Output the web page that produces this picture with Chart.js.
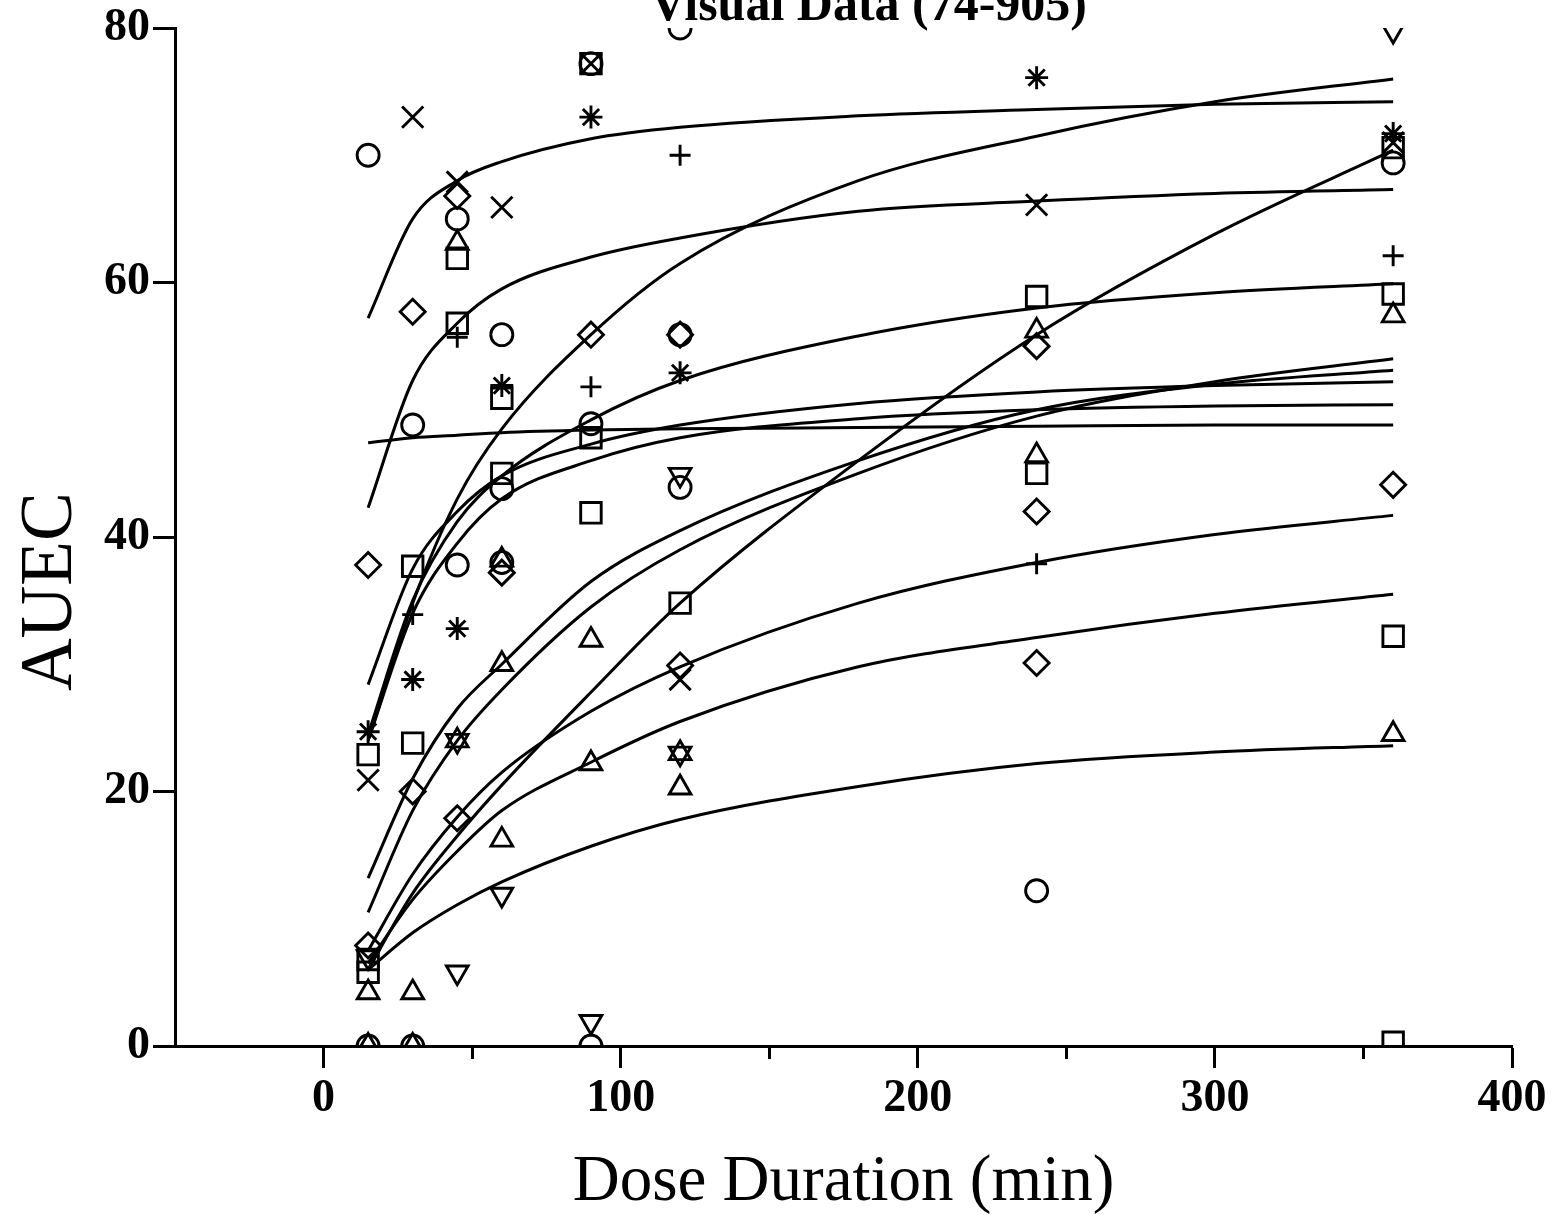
<!DOCTYPE html>
<html>
<head>
<meta charset="utf-8">
<script src="https://cdn.jsdelivr.net/npm/chart.js@4.4.1/dist/chart.umd.min.js"></script>
<style>
  html, body { margin: 0; padding: 0; background: #fff; overflow: hidden; }
  #wrap { position: absolute; left: 0; top: -26px; width: 1552px; height: 1241px; }
</style>
</head>
<body>
<div id="wrap"><canvas id="auecChart" width="1552" height="1241"></canvas></div>
<script>
// fitted curves at these durations
var curveX = [15, 30, 45, 60, 90, 120, 180, 240, 300, 360];
var curveA = [57.2, 65.0, 68.0, 69.5, 71.3, 72.2, 73.1, 73.6, 74.0, 74.2];
var curveB = [42.3, 52.3, 56.8, 59.5, 62.0, 63.5, 65.6, 66.4, 67.0, 67.3];
var curveC = [24.0, 34.8, 43.0, 48.5, 55.9, 61.5, 68.0, 71.5, 74.2, 76.0];
var curveD = [6.0, 12.0, 16.5, 20.5, 27.8, 34.8, 46.0, 55.9, 63.8, 70.4];
var curveE = [24.5, 35.0, 41.2, 44.8, 49.2, 52.3, 55.8, 58.0, 59.2, 59.9];
var curveF = [13.2, 21.0, 26.5, 30.0, 36.5, 40.5, 46.0, 50.0, 52.0, 53.1];
var curveG = [10.5, 18.5, 24.0, 28.0, 34.5, 39.0, 45.0, 49.5, 52.2, 54.0];
var curveH = [28.4, 37.5, 42.0, 44.8, 47.3, 48.8, 50.5, 51.4, 51.9, 52.2];
var curveI = [24.0, 34.0, 39.5, 43.0, 46.0, 47.8, 49.3, 50.0, 50.3, 50.4];
var curveJ = [47.4, 47.8, 48.0, 48.2, 48.4, 48.5, 48.6, 48.7, 48.8, 48.8];
var curveK = [7.5, 13.5, 18.0, 21.5, 26.3, 29.8, 34.8, 38.0, 40.2, 41.7];
var curveL = [6.5, 11.5, 15.3, 18.5, 22.3, 25.5, 29.8, 32.1, 34.0, 35.5];
var curveM = [6.0, 8.9, 11.1, 12.9, 15.7, 17.8, 20.4, 22.2, 23.1, 23.6];

// observed points, one pair of arrays per symbol
var circleX = [15, 15, 30, 30, 45, 45, 60, 60, 60, 90, 90, 90, 120, 120, 120, 240, 360];
var circleY = [70.0, 0, 48.8, 0, 65.0, 37.8, 55.9, 43.8, 38.0, 77.2, 48.9, 0, 80.0, 55.9, 43.9, 12.2, 69.4];
var squareX = [15, 15, 15, 30, 30, 45, 45, 60, 60, 90, 90, 90, 120, 240, 240, 360, 360, 360, 360];
var squareY = [22.9, 6.8, 5.8, 37.7, 23.8, 61.9, 56.8, 50.9, 45.0, 77.2, 47.8, 41.9, 34.8, 58.9, 45.0, 70.6, 59.1, 32.2, 0.3];
var diamondX = [15, 15, 30, 30, 45, 45, 60, 90, 120, 120, 240, 240, 240, 360];
var diamondY = [37.8, 7.9, 57.7, 20.0, 66.8, 17.9, 37.2, 55.9, 55.9, 29.9, 55.0, 42.0, 30.1, 44.1];
var triUpX = [15, 15, 30, 30, 45, 45, 60, 60, 60, 90, 90, 120, 120, 240, 240, 360, 360];
var triUpY = [4.2, 0, 4.2, 0, 63.1, 24.0, 38.2, 30.0, 16.2, 31.9, 22.2, 23.0, 20.3, 56.2, 46.4, 57.4, 24.5];
var triDownX = [15, 45, 45, 60, 90, 120, 120, 360];
var triDownY = [7.0, 24.0, 5.8, 11.9, 1.9, 44.9, 23.0, 79.8];
var crossX = [15, 30, 45, 60, 90, 120, 240, 360];
var crossY = [20.9, 73.0, 67.9, 65.9, 77.2, 28.8, 66.1, 71.0];
var plusX = [30, 45, 90, 120, 240, 360];
var plusY = [33.9, 55.7, 51.8, 70.0, 37.9, 62.1];
var starX = [15, 30, 45, 60, 90, 120, 240, 360];
var starY = [24.7, 28.8, 32.8, 51.9, 73.0, 52.9, 76.1, 71.7];

var xTicks = [0, 100, 200, 300, 400];
var xMinorTicks = [50, 150, 250, 350];
var yTicks = [0, 20, 40, 60, 80];

function pts(xs, ys) {
  var out = [];
  for (var i = 0; i < xs.length; i++) out.push({ x: xs[i], y: ys[i] });
  return out;
}

function fixedTicks(list) {
  return function (s) {
    s.ticks = list.map(function (v) { return { value: v }; });
  };
}

Chart.defaults.font.family = "'Liberation Serif', 'Times New Roman', serif";
Chart.defaults.color = "#000";

var datasets = [];
var curves = [curveA, curveB, curveC, curveD, curveE, curveF, curveG, curveH, curveI, curveJ, curveK, curveL, curveM];
for (var c = 0; c < curves.length; c++) {
  datasets.push({
    data: pts(curveX, curves[c]),
    showLine: true,
    cubicInterpolationMode: "monotone",
    borderColor: "#000",
    borderWidth: 3,
    pointRadius: 0,
    xAxisID: "x",
    yAxisID: "y",
  });
}

var markers = [
  { xs: circleX, ys: circleY, style: "circle", r: 11, rot: 0 },
  { xs: squareX, ys: squareY, style: "rect", r: 14.5, rot: 0 },
  { xs: diamondX, ys: diamondY, style: "rectRot", r: 12.5, rot: 0 },
  { xs: triUpX, ys: triUpY, style: "triangle", r: 12.5, rot: 0 },
  { xs: triDownX, ys: triDownY, style: "triangle", r: 12.5, rot: 180 },
  { xs: crossX, ys: crossY, style: "crossRot", r: 15, rot: 0 },
  { xs: plusX, ys: plusY, style: "cross", r: 10.5, rot: 0 },
  { xs: starX, ys: starY, style: "star", r: 11.5, rot: 0 },
];
for (var m = 0; m < markers.length; m++) {
  datasets.push({
    data: pts(markers[m].xs, markers[m].ys),
    showLine: false,
    pointStyle: markers[m].style,
    pointRadius: markers[m].r,
    pointRotation: markers[m].rot,
    pointBorderColor: "#000",
    pointBackgroundColor: "rgba(0,0,0,0)",
    pointBorderWidth: 2.9,
    clip: 0,
    xAxisID: "x",
    yAxisID: "y",
  });
}

var tickFont = { size: 46, weight: "bold" };

var ctx = document.getElementById("auecChart");
var myChart = new Chart(ctx, {
  type: "scatter",
  data: { datasets: datasets },
  options: {
    responsive: false,
    animation: false,
    events: [],
    layout: { padding: { left: 0, right: 40, top: 0, bottom: 0 } },
    plugins: { legend: { display: false }, tooltip: { enabled: false } },
    scales: {
      x: {
        type: "linear",
        axis: "x",
        position: "bottom",
        weight: 1,
        min: -50,
        max: 400,
        afterBuildTicks: fixedTicks(xTicks),
        ticks: { font: tickFont, padding: 4, maxRotation: 0, autoSkip: false },
        grid: { drawOnChartArea: false, tickLength: 22, tickWidth: 3, tickColor: "#000" },
        border: { color: "#000", width: 3 },
        title: { display: true, text: "Dose Duration (min)", font: { size: 65, lineHeight: 1.0 }, padding: 0 },
        afterFit: function (s) { s.height = 169; s.paddingLeft = 0; s.paddingRight = 0; },
      },
      xMinor: {
        type: "linear",
        axis: "x",
        position: "bottom",
        weight: 0,
        min: -50,
        max: 400,
        afterBuildTicks: fixedTicks(xMinorTicks),
        ticks: { display: false },
        grid: { drawOnChartArea: false, tickLength: 13, tickWidth: 3, tickColor: "#000" },
        border: { display: false },
        afterFit: function (s) { s.height = 0; s.paddingLeft = 0; s.paddingRight = 0; },
      },
      xTop: {
        type: "linear",
        axis: "x",
        position: "top",
        min: -50,
        max: 400,
        ticks: { display: false },
        grid: { display: false },
        border: { display: false },
        title: {
          display: true,
          text: "\u00a0\u00a0\u00a0\u00a0Visual Data (74-905)",
          font: { size: 50, weight: "bold" },
          padding: { top: 3, bottom: 0 },
        },
        afterFit: function (s) { s.height = 54; s.paddingLeft = 0; s.paddingRight = 0; },
      },
      y: {
        type: "linear",
        position: "left",
        min: 0,
        max: 80,
        afterBuildTicks: fixedTicks(yTicks),
        ticks: { font: tickFont, padding: 3 },
        grid: { drawOnChartArea: false, tickLength: 22, tickWidth: 3, tickColor: "#000" },
        border: { color: "#000", width: 3 },
        title: {
          display: true,
          text: "AUEC\u00a0\u00a0\u00a0\u00a0\u00a0\u00a0",
          font: { size: 73 },
          padding: { top: 8, bottom: 0 },
        },
        afterFit: function (s) { s.width = 175; s.paddingTop = 0; s.paddingBottom = 0; },
      },
    },
  },
});
</script>
</body>
</html>
